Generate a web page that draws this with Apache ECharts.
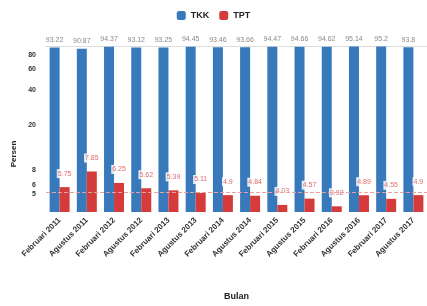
<!DOCTYPE html>
<html>
    <head>
        <title>TKK dan TPT</title>
        <meta charset="UTF-8">
        <script type="text/javascript" src="https://cdn.jsdelivr.net/npm/echarts@6/dist/echarts.min.js"></script>
        <style>
            body { margin: 0; background: #fff; }
        </style>
    </head>
    <body>
        <div id="container" style="width:427px;height:306px"></div>
        <script type="text/javascript">
            var bulan = ['Februari 2011', 'Agustus 2011', 'Februari 2012', 'Agustus 2012',
                'Februari 2013', 'Agustus 2013', 'Februari 2014', 'Agustus 2014',
                'Februari 2015', 'Agustus 2015', 'Februari 2016', 'Agustus 2016',
                'Februari 2017', 'Agustus 2017'];
            var tkk = [93.22, 90.87, 94.37, 93.12, 93.25, 94.45, 93.46, 93.66, 94.47, 94.66, 94.62, 95.14, 95.2, 93.8];
            var tpt = [5.75, 7.85, 6.25, 5.62, 5.39, 5.11, 4.9, 4.84, 4.03, 4.57, 3.92, 4.89, 4.55, 4.9];
            var yTicks = [5, 6, 8, 20, 40, 60, 80];

            var myChart = echarts.init(document.getElementById('container'));
            var option = {
                animation: false,
                legend: {
                    top: 6,
                    left: 'center',
                    itemWidth: 9,
                    itemHeight: 9,
                    itemGap: 10,
                    textStyle: {fontSize: 9, fontWeight: 'bold', color: '#222'},
                    data: ['TKK', 'TPT']
                },
                grid: {left: 46, right: -11, top: 46, bottom: 88},
                xAxis: [{
                        type: 'category',
                        data: bulan,
                        name: 'Bulan',
                        nameLocation: 'middle',
                        nameGap: 80,
                        nameTextStyle: {fontSize: 9, fontWeight: 'bold', color: '#222'},
                        axisLine: {show: false},
                        axisTick: {show: false},
                        axisLabel: {rotate: 45, fontSize: 8, fontWeight: 'bold', color: '#333', margin: 7, interval: 0}
                    }, {
                        type: 'category',
                        position: 'top',
                        data: bulan,
                        axisLine: {lineStyle: {color: '#ddd'}},
                        axisTick: {show: false},
                        axisLabel: {show: false}
                    }],
                yAxis: {
                    type: 'log',
                    min: 3.5,
                    max: 96,
                    name: 'Persen',
                    nameLocation: 'middle',
                    nameGap: 16,
                    nameTextStyle: {fontSize: 8, fontWeight: 'bold', color: '#222', padding: [0, 50, 0, 0]},
                    axisLine: {show: false},
                    axisTick: {show: false},
                    splitLine: {show: false},
                    axisLabel: {customValues: yTicks, fontSize: 7, fontWeight: 'bold', color: '#333', margin: 10}
                },
                series: [{
                        name: 'TKK',
                        type: 'bar',
                        data: tkk,
                        barWidth: 10,
                        barGap: '0%',
                        itemStyle: {color: '#3779bb'},
                        label: {show: true, position: 'top', distance: 4, fontSize: 7, color: '#8a8a8a'}
                    }, {
                        name: 'TPT',
                        type: 'bar',
                        data: tpt,
                        barWidth: 10,
                        itemStyle: {color: '#d63b3b'},
                        label: {
                            show: true, position: 'top', distance: 9, fontSize: 7, color: '#e06a6a',
                            backgroundColor: 'rgba(255,255,255,0.85)', padding: [1, 1]
                        },
                        markLine: {
                            symbol: 'none',
                            silent: true,
                            label: {show: false},
                            lineStyle: {color: '#e8a0a0', type: 'dashed', width: 1},
                            data: [{type: 'average'}]
                        }
                    }]
            };
            myChart.setOption(option);
        </script>
    </body>
</html>
